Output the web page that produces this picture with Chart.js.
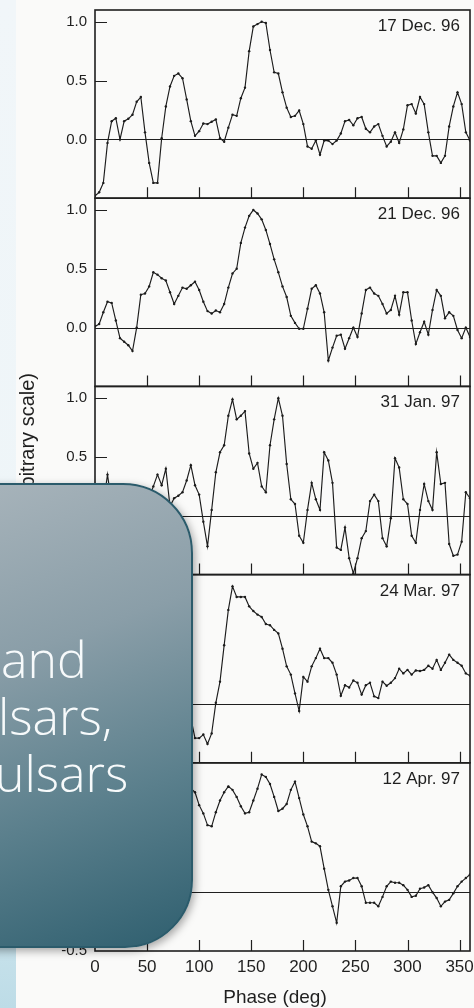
<!DOCTYPE html>
<html>
<head>
<meta charset="utf-8">
<script src="https://cdn.jsdelivr.net/npm/chart.js@4.4.1/dist/chart.umd.min.js"></script>
<style>
  html, body { margin: 0; padding: 0; }
  body { width: 474px; height: 1008px; position: relative; overflow: hidden; background: #f9f9f8; }
  #strip { position: absolute; left: 0; top: 0; width: 16px; height: 1008px;
    background: linear-gradient(to bottom, #f1f6f9 0%, #eef5f8 55%, #d3e8ef 85%, #bddce7 100%); }
  #scan { position: absolute; left: 16px; top: 0; width: 458px; height: 1008px; background: #fafaf9; }
  #chart { position: absolute; left: 0; top: 0; }
  #callout { position: absolute; left: -40px; top: 483px; width: 233px; height: 465px; box-sizing: border-box;
    border: 2px solid #2b5b6b; border-radius: 0 70px 68px 0;
    background: linear-gradient(160deg, #a8b4bb 0%, #8a9ea8 35%, #5a7f8c 68%, #2f5f6f 100%);
    box-shadow: 2px 3px 8px rgba(0, 0, 0, 0.35);
    color: #f7fafb; font-family: "Open Sans", "Noto Sans", sans-serif; font-weight: 300; font-size: 50px; }
  .line { position: absolute; white-space: nowrap; line-height: 50px; }
</style>
</head>
<body>
<div id="strip"></div>
<div id="scan"></div>
<canvas id="chart" width="474" height="1008"></canvas>
<div id="callout">
  <div class="line" style="left:39px; top:149px;">and</div>
  <div class="line" style="left:36px; top:206px;">lsars,</div>
  <div class="line" style="left:33px; top:263px;">ulsars</div>
</div>
<script>
// phase bins (deg)
var phases = [0, 4, 8, 12, 16, 20, 24, 28, 32, 36, 40, 44, 48, 52, 56, 60, 64, 68, 72, 76,
  80, 84, 88, 92, 96, 100, 104, 108, 112, 116, 120, 124, 128, 132, 136, 140, 144, 148, 152, 156,
  160, 164, 168, 172, 176, 180, 184, 188, 192, 196, 200, 204, 208, 212, 216, 220, 224, 228, 232, 236,
  240, 244, 248, 252, 256, 260, 264, 268, 272, 276, 280, 284, 288, 292, 296, 300, 304, 308, 312, 316,
  320, 324, 328, 332, 336, 340, 344, 348, 352, 356, 360];

var dec17 = [-0.48, -0.45, -0.37, -0.03, 0.155, 0.18, 0.0, 0.155, 0.175, 0.21,
  0.32, 0.36, 0.06, -0.2, -0.37, -0.37, 0.01, 0.28, 0.45, 0.54,
  0.56, 0.52, 0.34, 0.155, 0.03, 0.07, 0.135, 0.13, 0.15, 0.17,
  0.01, -0.02, 0.1, 0.21, 0.2, 0.35, 0.44, 0.75, 0.96, 0.98,
  1.0, 0.99, 0.76, 0.57, 0.56, 0.4, 0.27, 0.19, 0.2, 0.245,
  0.13, -0.06, -0.08, -0.01, -0.13, -0.01, -0.01, -0.04, -0.01, 0.05,
  0.155, 0.165, 0.12, 0.18, 0.19, 0.09, 0.06, 0.11, 0.13, 0.03,
  -0.06, -0.02, 0.06, -0.03, 0.085, 0.29, 0.3, 0.22, 0.36, 0.3,
  0.06, -0.14, -0.14, -0.2, -0.14, 0.11, 0.28, 0.4, 0.3, 0.06,
  -0.01];

var dec21 = [0.01, 0.03, 0.13, 0.22, 0.21, 0.06, -0.09, -0.12, -0.15, -0.2,
  0.0, 0.28, 0.29, 0.35, 0.47, 0.45, 0.42, 0.4, 0.3, 0.2,
  0.27, 0.34, 0.33, 0.36, 0.39, 0.32, 0.22, 0.14, 0.12, 0.145,
  0.13, 0.2, 0.34, 0.46, 0.5, 0.72, 0.85, 0.95, 1.0, 0.97,
  0.92, 0.83, 0.71, 0.58, 0.47, 0.35, 0.26, 0.1, 0.04, -0.01,
  -0.01, 0.16, 0.33, 0.36, 0.29, 0.13, -0.28, -0.17, -0.07, -0.06,
  -0.18, -0.09, 0.0, -0.08, 0.12, 0.32, 0.34, 0.29, 0.27, 0.2,
  0.12, 0.15, 0.27, 0.11, 0.3, 0.3, 0.06, -0.14, -0.04, 0.05,
  -0.06, 0.15, 0.32, 0.27, 0.08, 0.13, 0.1, -0.02, -0.09, 0.0,
  -0.08];

var jan31 = [0.05, -0.1, 0.1, 0.35, 0.1, -0.15, 0.0, 0.15, 0.05, -0.2,
  0.1, 0.2, 0.05, 0.15, 0.25, 0.35, 0.26, 0.4, 0.08, 0.15,
  0.17, 0.2, 0.3, 0.43, 0.26, 0.18, -0.05, -0.26, 0.05, 0.37,
  0.54, 0.6, 0.85, 0.99, 0.82, 0.85, 0.89, 0.53, 0.4, 0.45,
  0.25, 0.2, 0.6, 0.82, 1.0, 0.85, 0.44, 0.14, 0.1, -0.17,
  -0.23, 0.05, 0.28, 0.14, 0.05, 0.54, 0.47, 0.28, -0.27, -0.29,
  -0.1, -0.36, -0.49, -0.36, -0.19, -0.13, 0.125, 0.18, 0.125, -0.19,
  -0.26, -0.02, 0.49, 0.41, 0.14, 0.1, -0.17, -0.23, 0.05, 0.27,
  0.125, 0.05, 0.54, 0.27, 0.28, -0.24, -0.34, -0.33, -0.22, 0.2,
  0.15];

var mar24 = [0.05, 0.1, 0.0, -0.05, 0.08, 0.02, -0.1, -0.05, 0.05, 0.0,
  -0.08, -0.15, -0.05, 0.02, -0.1, -0.18, -0.1, -0.02, 0.03, -0.05,
  -0.1, 0.0, 0.05, -0.12, -0.29, -0.29, -0.26, -0.34, -0.25, 0.01,
  0.19, 0.5, 0.8, 1.0, 0.91, 0.91, 0.91, 0.83, 0.79, 0.76,
  0.74, 0.68, 0.67, 0.63, 0.6, 0.47, 0.32, 0.25, 0.09, -0.06,
  0.23, 0.19, 0.32, 0.39, 0.47, 0.39, 0.39, 0.35, 0.25, 0.07,
  0.16, 0.14, 0.2, 0.18, 0.08, 0.16, 0.18, 0.065, 0.05, 0.19,
  0.155, 0.18, 0.22, 0.3, 0.26, 0.29, 0.25, 0.285, 0.28, 0.29,
  0.325, 0.3, 0.375, 0.29, 0.35, 0.42, 0.375, 0.35, 0.325, 0.26,
  0.24];

var apr12 = [0.55, 0.62, 0.7, 0.78, 0.72, 0.66, 0.74, 0.84, 0.9, 0.82,
  0.74, 0.8, 0.9, 0.95, 0.86, 0.78, 0.82, 0.9, 0.84, 0.76,
  0.8, 0.9, 0.94, 0.88, 0.85, 0.74, 0.67, 0.57, 0.56, 0.68,
  0.78, 0.85, 0.9, 0.87, 0.81, 0.73, 0.67, 0.68, 0.78, 0.88,
  1.0, 0.98, 0.92, 0.81, 0.69, 0.71, 0.75, 0.87, 0.94, 0.8,
  0.66, 0.56, 0.43, 0.415, 0.39, 0.2, 0.02, -0.12, -0.26, 0.05,
  0.09, 0.1, 0.12, 0.12, 0.05, -0.09, -0.09, -0.09, -0.12, -0.04,
  0.05, 0.09, 0.08, 0.08, 0.06, 0.02, -0.04, -0.03, 0.03, 0.04,
  0.06, 0.0, -0.05, -0.12, -0.08, -0.065, -0.01, 0.05, 0.09, 0.12,
  0.15];

var panelDates = ['17 Dec. 96', '21 Dec. 96', '31 Jan. 97', '24 Mar. 97', '12 Apr. 97'];
var panelSeries = [dec17, dec21, jan31, mar24, apr12];
var panelIds = ['p1', 'p2', 'p3', 'p4', 'p5'];
var xTicks = [0, 50, 100, 150, 200, 250, 300, 350];
var yTicks = [0, 0.5, 1.0];
var yTicksBottom = [-0.5, 0, 0.5, 1.0];

var ink = '#1f1f1f';
var fontFamily = '"Liberation Sans", Arial, sans-serif';

function panelAxis(isBottom) {
    return {
        type: 'linear',
        position: 'left',
        stack: 'panels',
        stackWeight: 1,
        min: -0.5,
        max: 1.1,
        grid: { display: false, drawTicks: false },
        border: { display: false },
        ticks: {
            padding: 8,
            color: ink,
            font: { family: fontFamily, size: 15 },
            callback: function (v) { return Number(v).toFixed(1); }
        },
        afterBuildTicks: function (s) {
            s.ticks = (isBottom ? yTicksBottom : yTicks).map(function (v) { return { value: v }; });
        },
        afterFit: function (s) {
            s.width = 95;
            s.paddingTop = 0;
            s.paddingBottom = 0;
        }
    };
}

var scales = {
    x: {
        type: 'linear',
        min: 0,
        max: 360,
        grid: { display: false, drawTicks: false },
        border: { display: false },
        ticks: {
            padding: 6,
            color: ink,
            autoSkip: false,
            maxRotation: 0,
            font: { family: fontFamily, size: 17 },
            callback: function (v) { return String(v); }
        },
        afterBuildTicks: function (s) {
            s.ticks = xTicks.map(function (v) { return { value: v }; });
        },
        afterFit: function (s) {
            s.height = 57;
            s.paddingLeft = 0;
            s.paddingRight = 0;
        }
    }
};
// later axes stack on top, so add the bottom panel first
for (var i = panelIds.length - 1; i >= 0; i--) {
    scales[panelIds[i]] = panelAxis(i === panelIds.length - 1);
}

var panelFrames = {
    id: 'panelFrames',
    beforeDatasetsDraw: function (chart) {
        var ctx = chart.ctx;
        var area = chart.chartArea;
        var xs = chart.scales.x;
        ctx.save();
        ctx.strokeStyle = ink;
        ctx.fillStyle = ink;
        panelIds.forEach(function (id, i) {
            var s = chart.scales[id];
            var zero = Math.round(s.getPixelForValue(0)) + 0.5;

            ctx.lineWidth = 1;
            ctx.beginPath();
            ctx.moveTo(area.left, zero);
            ctx.lineTo(area.right, zero);
            ctx.stroke();

            ctx.lineWidth = 1.2;
            ctx.beginPath();
            yTicks.forEach(function (v) {
                var py = Math.round(s.getPixelForValue(v)) + 0.5;
                ctx.moveTo(area.left, py);
                ctx.lineTo(area.left + 12, py);
            });
            xTicks.forEach(function (v) {
                if (v === 0) return;
                var px = Math.round(xs.getPixelForValue(v)) + 0.5;
                ctx.moveTo(px, s.bottom);
                ctx.lineTo(px, s.bottom - 11);
            });
            ctx.stroke();

            ctx.lineWidth = 1.6;
            ctx.strokeRect(area.left, s.top, area.right - area.left, s.bottom - s.top);

            ctx.font = '17px ' + fontFamily;
            ctx.textAlign = 'right';
            ctx.textBaseline = 'alphabetic';
            ctx.fillText(panelDates[i], area.right - 10, s.top + 21);
        });

        ctx.font = '19px ' + fontFamily;
        ctx.textAlign = 'center';
        ctx.fillText('Phase (deg)', 275, 1003);

        ctx.translate(34, 373);
        ctx.rotate(-Math.PI / 2);
        ctx.font = '20px ' + fontFamily;
        ctx.textAlign = 'right';
        ctx.fillText('Intensity (arbitrary scale)', 0, 0);
        ctx.restore();
    }
};

new Chart(document.getElementById('chart').getContext('2d'), {
    type: 'line',
    data: {
        labels: phases,
        datasets: panelSeries.map(function (series, i) {
            return {
                label: panelDates[i],
                data: series,
                yAxisID: panelIds[i],
                borderColor: '#1c1c1c',
                borderWidth: 1.15,
                pointRadius: 1.2,
                pointBorderWidth: 0,
                pointBackgroundColor: '#1c1c1c',
                tension: 0
            };
        })
    },
    options: {
        responsive: false,
        animation: false,
        layout: { padding: { top: 10, left: 0, right: 0, bottom: 0 } },
        plugins: { legend: { display: false }, tooltip: { enabled: false } },
        scales: scales
    },
    plugins: [panelFrames]
});
</script>
</body>
</html>
